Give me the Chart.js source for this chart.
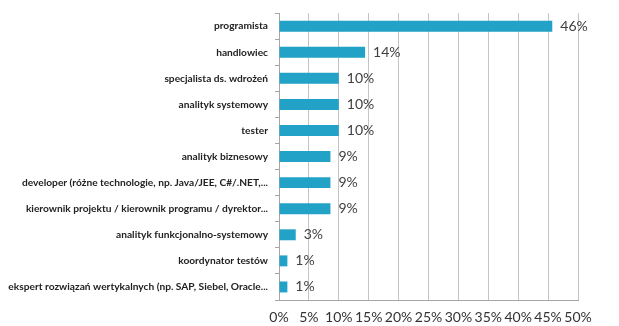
<!DOCTYPE html>
<html>
<head>
<meta charset="utf-8">
<script src="https://cdn.jsdelivr.net/npm/chart.js@4/dist/chart.umd.min.js"></script>
<style>
  html, body { margin: 0; padding: 0; background: #ffffff; }
  #wrap { width: 619px; height: 326px; }
</style>
</head>
<body>
<div id="wrap"><canvas id="chart" width="619" height="326"></canvas></div>
<script>
const roles = [
  'programista',
  'handlowiec',
  'specjalista ds. wdrożeń',
  'analityk systemowy',
  'tester',
  'analityk biznesowy',
  'developer (różne technologie, np. Java/JEE, C#/.NET,...',
  'kierownik projektu / kierownik programu / dyrektor...',
  'analityk funkcjonalno-systemowy',
  'koordynator testów',
  'ekspert rozwiązań wertykalnych (np. SAP, Siebel, Oracle...'
];
const shares = [45.7, 14.4, 10, 10, 10, 8.6, 8.6, 8.6, 2.8, 1.4, 1.4];
const shareLabels = ['46%', '14%', '10%', '10%', '10%', '9%', '9%', '9%', '3%', '1%', '1%'];

// draws the percentage right of each bar
const valueLabels = {
  id: 'valueLabels',
  afterDatasetsDraw(chart) {
    const ctx = chart.ctx;
    const meta = chart.getDatasetMeta(0);
    ctx.save();
    ctx.font = '14px Lato';
    ctx.fillStyle = '#404040';
    ctx.textBaseline = 'middle';
    meta.data.forEach((bar, i) => {
      ctx.fillText(shareLabels[i], bar.x + 8, bar.y);
    });
    ctx.restore();
  }
};

new Chart(document.getElementById('chart'), {
  type: 'bar',
  data: {
    labels: roles,
    datasets: [{
      data: shares,
      backgroundColor: '#22a2c6',
      borderWidth: 0,
      barPercentage: 0.42,
      categoryPercentage: 1
    }]
  },
  options: {
    indexAxis: 'y',
    responsive: false,
    animation: false,
    layout: { padding: { top: 8, right: 41, bottom: 0, left: 0 } },
    plugins: {
      legend: { display: false },
      tooltip: { enabled: false }
    },
    scales: {
      x: {
        min: 0,
        max: 50,
        grid: { color: '#c4c4c4', drawTicks: false },
        border: { color: '#a6a6a6' },
        afterFit: scale => { scale.height = 26; },
        ticks: {
          stepSize: 5,
          padding: 9,
          maxRotation: 0,
          minRotation: 0,
          autoSkip: false,
          color: '#333333',
          font: { family: 'Lato', size: 14 },
          callback: v => v + '%'
        }
      },
      y: {
        grid: { display: true, drawOnChartArea: false, offset: true, tickLength: 4, color: '#a6a6a6' },
        border: { color: '#a6a6a6' },
        afterFit: scale => { scale.width = 279; },
        ticks: {
          autoSkip: false,
          padding: 7,
          color: '#222222',
          font: { family: 'Lato', size: 10.2, weight: 'bold' }
        }
      }
    }
  },
  plugins: [valueLabels]
});
</script>
</body>
</html>
